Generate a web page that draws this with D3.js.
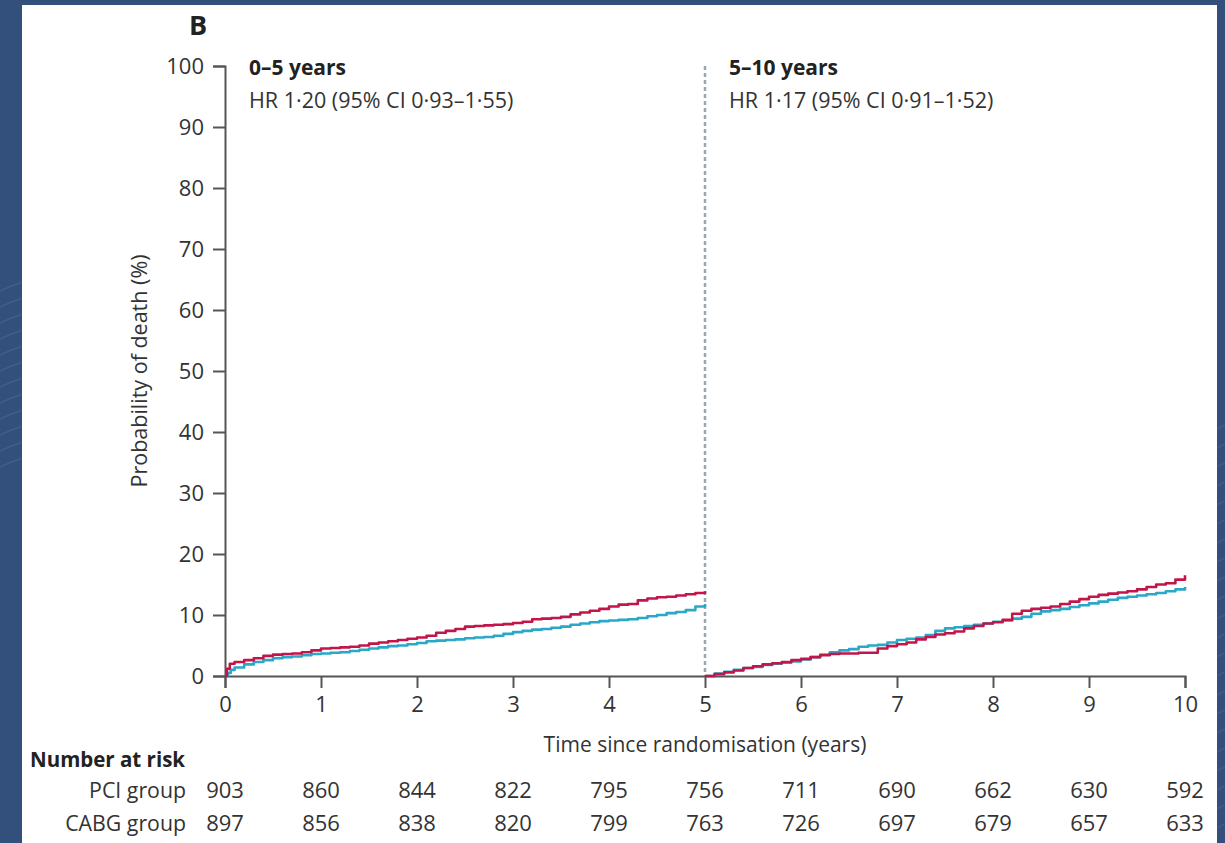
<!DOCTYPE html>
<html>
<head>
<meta charset="utf-8">
<script src="https://cdn.jsdelivr.net/npm/d3@7"></script>
<style>
  html, body { margin: 0; padding: 0; background: #33507d; }
  svg { display: block; }
  text { font-family: "Open Sans", "Noto Sans", sans-serif; fill: #333; }
</style>
</head>
<body>
<svg id="chart" width="1225" height="843"></svg>
<script>
// Kaplan–Meier estimates of death (%), landmark analysis at 5 years
const pciEarly = [
  [0,0],[0.02,1.2],[0.05,2.0],[0.1,2.3],[0.2,2.6],[0.3,2.9],[0.4,3.3],[0.5,3.5],[0.6,3.6],[0.7,3.7],
  [0.8,3.9],[0.9,4.2],[1.0,4.5],[1.1,4.6],[1.2,4.7],[1.3,4.8],[1.4,5.0],[1.5,5.3],[1.6,5.5],[1.7,5.7],
  [1.8,5.9],[1.9,6.1],[2.0,6.3],[2.1,6.6],[2.2,7.1],[2.3,7.4],[2.4,7.7],[2.5,8.1],[2.6,8.2],[2.7,8.3],
  [2.8,8.4],[2.9,8.5],[3.0,8.7],[3.1,8.9],[3.2,9.3],[3.3,9.4],[3.4,9.5],[3.5,9.7],[3.6,10.1],[3.7,10.4],
  [3.8,10.7],[3.9,11.0],[4.0,11.4],[4.1,11.7],[4.2,11.8],[4.3,12.4],[4.4,12.7],[4.5,12.9],[4.6,13.0],
  [4.7,13.2],[4.8,13.4],[4.9,13.6],[5.0,13.9]
];
const cabgEarly = [
  [0,0],[0.03,0.5],[0.06,1.0],[0.1,1.4],[0.2,1.9],[0.3,2.3],[0.4,2.6],[0.5,2.9],[0.6,3.1],[0.7,3.2],
  [0.8,3.4],[0.9,3.6],[1.0,3.7],[1.1,3.8],[1.2,3.9],[1.3,4.1],[1.4,4.3],[1.5,4.5],[1.6,4.7],[1.7,4.9],
  [1.8,5.0],[1.9,5.2],[2.0,5.4],[2.1,5.7],[2.2,5.8],[2.3,5.9],[2.4,6.0],[2.5,6.2],[2.6,6.3],[2.7,6.4],
  [2.8,6.6],[2.9,6.9],[3.0,7.2],[3.1,7.4],[3.2,7.6],[3.3,7.7],[3.4,7.9],[3.5,8.1],[3.6,8.4],[3.7,8.6],
  [3.8,8.8],[3.9,9.0],[4.0,9.1],[4.1,9.2],[4.2,9.3],[4.3,9.5],[4.4,9.8],[4.5,10.0],[4.6,10.3],
  [4.7,10.5],[4.8,10.8],[4.9,11.4],[5.0,11.8]
];
const pciLate = [
  [5.0,0],[5.1,0.3],[5.2,0.6],[5.3,0.9],[5.4,1.3],[5.5,1.6],[5.6,1.9],[5.7,2.1],[5.8,2.3],[5.9,2.6],
  [6.0,2.8],[6.1,3.1],[6.2,3.4],[6.3,3.6],[6.4,3.7],[6.5,3.7],[6.6,3.8],[6.7,3.8],[6.8,4.5],[6.9,4.9],
  [7.0,5.2],[7.1,5.5],[7.2,6.0],[7.3,6.4],[7.4,6.8],[7.5,7.0],[7.6,7.3],[7.7,7.8],[7.8,8.2],[7.9,8.6],
  [8.0,8.8],[8.1,9.2],[8.2,10.2],[8.3,10.7],[8.4,11.0],[8.5,11.2],[8.6,11.4],[8.7,11.8],[8.8,12.2],
  [8.9,12.6],[9.0,13.0],[9.1,13.3],[9.2,13.5],[9.3,13.7],[9.4,13.9],[9.5,14.2],[9.6,14.6],[9.7,15.0],
  [9.8,15.2],[9.9,15.8],[10.0,16.5]
];
const cabgLate = [
  [5.0,0],[5.1,0.4],[5.2,0.7],[5.3,1.0],[5.4,1.3],[5.5,1.5],[5.6,1.8],[5.7,2.0],[5.8,2.2],[5.9,2.4],
  [6.0,2.7],[6.1,3.1],[6.2,3.5],[6.3,3.9],[6.4,4.2],[6.5,4.4],[6.6,4.8],[6.7,5.0],[6.8,5.1],[6.9,5.5],
  [7.0,5.9],[7.1,6.1],[7.2,6.3],[7.3,6.7],[7.4,7.4],[7.5,7.8],[7.6,8.0],[7.7,8.2],[7.8,8.4],[7.9,8.6],
  [8.0,8.9],[8.1,9.1],[8.2,9.4],[8.3,9.7],[8.4,10.2],[8.5,10.6],[8.6,10.8],[8.7,11.0],[8.8,11.3],
  [8.9,11.6],[9.0,11.9],[9.1,12.2],[9.2,12.5],[9.3,12.8],[9.4,13.0],[9.5,13.2],[9.6,13.4],[9.7,13.6],
  [9.8,13.9],[9.9,14.2],[10.0,14.6]
];

const xTicks = [0,1,2,3,4,5,6,7,8,9,10];
const yTicks = [0,10,20,30,40,50,60,70,80,90,100];
const riskYears = [0,1,2,3,4,5,6,7,8,9,10];
const riskPCI  = [903,860,844,822,795,756,711,690,662,630,592];
const riskCABG = [897,856,838,820,799,763,726,697,679,657,633];
const periodTitles = ["0–5 years", "5–10 years"];
const periodHR = ["HR 1·20 (95% CI 0·93–1·55)", "HR 1·17 (95% CI 0·91–1·52)"];
const periodStart = [0, 5];

const svg = d3.select("#chart");
const W = 1225, H = 843;

// slide background with faint texture strokes, then the white card
svg.append("rect").attr("width", W).attr("height", H).attr("fill", "#33507d");
const texture = svg.append("g").attr("stroke", "#ffffff").attr("stroke-opacity", 0.07)
  .attr("fill", "none").attr("stroke-width", 1.5);
d3.range(0, 12).forEach(i => {
  const yy = 285 + i * 16;
  texture.append("path").attr("d", `M0,${yy + 6} Q12,${yy} 24,${yy - 3}`);
});
d3.range(0, 22).forEach(i => {
  const yy = 430 + i * 19;
  texture.append("path").attr("d", `M1214,${yy} Q1220,${yy - 2} 1225,${yy - 5}`);
});
svg.append("rect").attr("x", 22).attr("y", 5).attr("width", 1195).attr("height", H - 5).attr("fill", "#ffffff");

const x = d3.scaleLinear().domain([0, 10]).range([225, 1185]);
const y = d3.scaleLinear().domain([0, 100]).range([676, 66]);

// panel letter
svg.append("text").attr("x", 189).attr("y", 35)
  .style("font-size", "27px").style("font-weight", "700").style("fill", "#222").text("B");

// landmark divider
svg.append("line")
  .attr("x1", x(5)).attr("x2", x(5)).attr("y1", y(100)).attr("y2", y(0))
  .attr("stroke", "#9ca6ae").attr("stroke-width", 2.5).attr("stroke-dasharray", "4,3");

// axes
const axisColor = "#555";
const yAxis = svg.append("g").attr("transform", `translate(${x(0)},0)`)
  .call(d3.axisLeft(y).tickValues(yTicks).tickSize(12).tickPadding(9).tickFormat(d3.format("d")));
const xAxis = svg.append("g").attr("transform", `translate(0,${y(0)})`)
  .call(d3.axisBottom(x).tickValues(xTicks).tickSize(12).tickPadding(8).tickFormat(d3.format("d")));
[yAxis, xAxis].forEach(g => {
  g.select(".domain").attr("stroke", axisColor).attr("stroke-width", 2);
  g.selectAll(".tick line").attr("stroke", axisColor).attr("stroke-width", 2);
  g.selectAll(".tick text").style("font-size", "22px").style("font-family", "'Open Sans', sans-serif").attr("fill", "#3a3a3a");
});

// axis titles
svg.append("text")
  .attr("transform", `translate(147,${(y(0) + y(100)) / 2})`+" rotate(-90)")
  .attr("text-anchor", "middle").style("font-size", "21.5px")
  .text("Probability of death (%)");
svg.append("text").attr("x", x(5)).attr("y", 752).attr("text-anchor", "middle")
  .style("font-size", "21px").text("Time since randomisation (years)");

// period headers
periodTitles.forEach((t, i) => {
  const px = x(periodStart[i]) + 24;
  svg.append("text").attr("x", px).attr("y", 75).style("font-size", "21px").style("font-weight", "700")
    .style("fill", "#222").text(t);
  svg.append("text").attr("x", px).attr("y", 108).style("font-size", "21.5px").text(periodHR[i]);
});

// survival curves
const line = d3.line().x(d => x(d[0])).y(d => y(d[1])).curve(d3.curveStepAfter);
const curves = [
  { data: cabgEarly, color: "#2ba8c8" },
  { data: pciEarly,  color: "#c2164b" },
  { data: cabgLate,  color: "#2ba8c8" },
  { data: pciLate,   color: "#c2164b" }
];
svg.append("g").selectAll("path").data(curves).join("path")
  .attr("d", d => line(d.data))
  .attr("fill", "none").attr("stroke", d => d.color)
  .attr("stroke-width", 2.6).attr("stroke-linejoin", "round");

// number at risk table
svg.append("text").attr("x", 30).attr("y", 767).style("font-size", "20.5px").style("font-weight", "700")
  .style("fill", "#222").text("Number at risk");
const rows = [
  { label: "PCI group", values: riskPCI, yy: 798 },
  { label: "CABG group", values: riskCABG, yy: 831 }
];
rows.forEach(r => {
  svg.append("text").attr("x", 186).attr("y", r.yy).attr("text-anchor", "end")
    .style("font-size", "21.3px").text(r.label);
  svg.append("g").selectAll("text").data(riskYears).join("text")
    .attr("x", d => x(d)).attr("y", r.yy).attr("text-anchor", "middle")
    .style("font-size", "22px").text((d, i) => r.values[i]);
});
</script>
</body>
</html>
